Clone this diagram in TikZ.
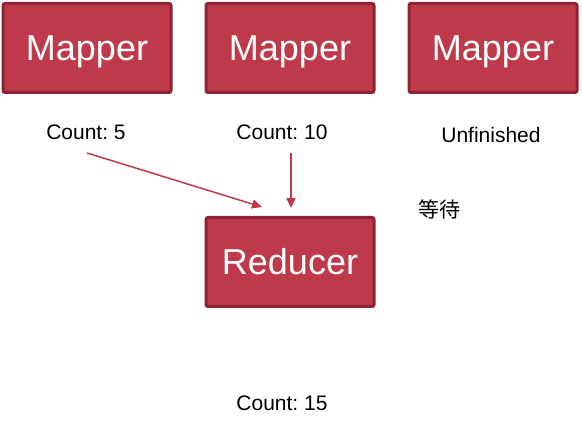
\documentclass[tikz,border=0pt]{standalone}
\usepackage{fontspec}
\setmainfont{Liberation Sans}
\newfontfamily\cjk{Noto Sans CJK SC}
\usetikzlibrary{arrows.meta}
\definecolor{boxfill}{HTML}{BE3A4B}
\definecolor{boxline}{HTML}{8E2433}
\frenchspacing
\begin{document}
\begin{tikzpicture}[x=1pt,y=-1pt,
  proc/.style={draw=boxline,fill=boxfill,line width=3pt,rounded corners=2pt,minimum width=168pt,minimum height=89pt,inner sep=0pt,text=white,text height=26pt,text depth=0pt,font=\fontsize{36}{40}\selectfont},
  lbl/.style={font=\fontsize{21}{24}\selectfont,inner sep=0pt},
  link/.style={draw=boxfill,line width=1.5pt,-{Triangle[length=10pt,width=9pt]}}]
\useasboundingbox (0,0) rectangle (582,430);
\node[proc] (m1) at (87,48) {Mapper};
\node[proc] (m2) at (290,48) {Mapper};
\node[proc] (m3) at (493,48) {Mapper};
\node[proc] (r) at (290,262) {Reducer};
\node[lbl] (c5) at (86,132) {Count: 5};
\node[lbl] (c10) at (282,132) {Count: 10};
\node[lbl] (un) at (491,135) {Unfinished};
\node[lbl,font=\cjk\fontsize{21}{24}\selectfont] (wait) at (439,209) {等待};
\node[lbl] (c15) at (282,403) {Count: 15};
\coordinate (a1s) at (87,153);
\coordinate (a1e) at (262,207);
\coordinate (a2s) at (291,153);
\coordinate (a2e) at (291,208);
\draw[link] (a1s) -- (a1e);
\draw[link] (a2s) -- (a2e);
\end{tikzpicture}
\end{document}
